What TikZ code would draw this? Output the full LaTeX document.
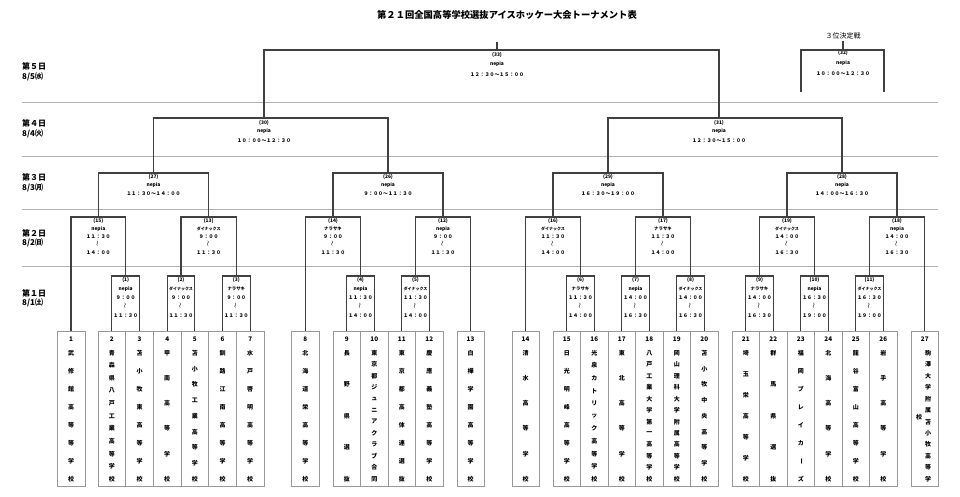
\documentclass[tikz,border=0pt]{standalone}
\usepackage{fontspec}
\setmainfont{Noto Sans CJK JP}
\tikzset{
 br/.style={draw=black!75,line width=1.1pt},
 sep/.style={draw=black!30,line width=0.9pt},
 tbox/.style={draw=black!40,line width=0.7pt,minimum height=155pt,inner sep=0pt,anchor=north},
 ttx/.style={font=\bfseries\fontsize{6}{6}\selectfont,inner sep=0pt},
 tnum/.style={font=\bfseries\fontsize{6.3}{6.3}\selectfont,inner sep=0pt},
 mtx/.style={font=\bfseries\fontsize{4.9}{4.9}\selectfont,inner sep=0pt},
 wtx/.style={font=\fontsize{5.6}{5.6}\selectfont,inner sep=0pt,rotate=90},
 daytx/.style={font=\bfseries\fontsize{8}{8}\selectfont,anchor=west,inner sep=0pt},
}
\newcommand\dyn{{\fontsize{4}{4}\selectfont ダイナックス}}
\newcommand\nrs{{\fontsize{4.4}{4.4}\selectfont ナラサキ}}
% team column: name, x, width, number, count, chars
\newcommand\team[6]{%
 \node[tbox,minimum width=#3pt] (#1) at (#2,331) {};
 \node[tnum] (#1n) at (#2,339) {#4};
 \foreach \ch [count=\i from 0] in {#6} {\node[ttx] (#1c\i) at (#2,{353+\i*126/(#5-1)}) {\ch};}
}
% first/second round match text: x, ytop, k, num, venue, t1, t2
\newcommand\mtwo[7]{%
 \coordinate (m#4) at (#1,#2);
 \node[mtx] (m#4l) at (#1,{#2+4*#3}) {(#4)};
 \node[mtx] (m#4v) at (#1,{#2+13*#3}) {#5};
 \node[mtx] (m#4a) at (#1,{#2+22*#3}) {#6};
 \node[wtx] (m#4w) at (#1,{#2+30*#3}) {〜};
 \node[mtx] (m#4b) at (#1,{#2+40*#3}) {#7};
}
% later round match text: x, ytop, num, venue, time, dy1, dy2, dy3
\newcommand\mone[8]{%
 \coordinate (m#3) at (#1,#2);
 \node[mtx] (m#3l) at (#1,{#2+#6}) {(#3)};
 \node[mtx] (m#3v) at (#1,{#2+#7}) {#4};
 \node[mtx] (m#3t) at (#1,{#2+#8}) {#5};
}
\begin{document}
\begin{tikzpicture}[x=1pt,y=-1pt]
\useasboundingbox (0,0) rectangle (960,496);
\fill[white] (0,0) rectangle (960,496);

\node[font=\bfseries\fontsize{9.3}{9.3}\selectfont,inner sep=0pt] (title) at (507,15) {第２１回全国高等学校選抜アイスホッケー大会トーナメント表};

% day labels
\node[daytx] (d5a) at (22,66) {第５日};
\node[daytx] (d5b) at (22,77) {8/5㈬};
\node[daytx] (d4a) at (22,123) {第４日};
\node[daytx] (d4b) at (22,134) {8/4㈫};
\node[daytx] (d3a) at (22,177) {第３日};
\node[daytx] (d3b) at (22,188) {8/3㈪};
\node[daytx] (d2a) at (22,233) {第２日};
\node[daytx] (d2b) at (22,243) {8/2㈰};
\node[daytx] (d1a) at (22,293) {第１日};
\node[daytx] (d1b) at (22,303) {8/1㈯};

% separators
\draw[sep] (22,102) -- (938,102);
\draw[sep] (22,156) -- (938,156);
\draw[sep] (22,209) -- (938,209);
\draw[sep] (22,266) -- (938,266);

% teams
\team{t1}{71}{28}{1}{8}{武,修,館,高,等,等,学,校}
\team{t2}{111.83}{27.67}{2}{11}{青,森,県,八,戸,工,業,高,等,学,校}
\team{t3}{139.5}{27.67}{3}{8}{苫,小,牧,東,高,等,学,校}
\team{t4}{167.17}{27.67}{4}{6}{甲,南,高,等,学,校}
\team{t5}{194.83}{27.67}{5}{9}{苫,小,牧,工,業,高,等,学,校}
\team{t6}{222.5}{27.67}{6}{8}{釧,路,江,南,高,等,学,校}
\team{t7}{250.17}{27.67}{7}{8}{水,戸,啓,明,高,等,学,校}
\team{t8}{305.3}{27.5}{8}{8}{北,海,道,栄,高,等,学,校}
\team{t9}{346.75}{27.5}{9}{5}{長,野,県,選,抜}
\team{t10}{374.25}{27.5}{10}{12}{東,京,都,ジ,ュ,ニ,ア,ク,ラ,ブ,合,同}
\team{t11}{401.75}{27.5}{11}{8}{東,京,都,高,体,連,選,抜}
\team{t12}{429.25}{27.5}{12}{8}{慶,應,義,塾,高,等,学,校}
\team{t13}{470.5}{27}{13}{8}{白,樺,学,園,高,等,学,校}
\team{t14}{525.5}{27}{14}{6}{清,水,高,等,学,校}
\team{t15}{566.75}{27.5}{15}{8}{日,光,明,峰,高,等,学,校}
\team{t16}{594.25}{27.5}{16}{11}{光,泉,カ,ト,リ,ッ,ク,高,等,学,校}
\team{t17}{621.75}{27.5}{17}{6}{東,北,高,等,学,校}
\team{t18}{649.25}{27.5}{18}{12}{八,戸,工,業,大,学,第,一,高,等,学,校}
\team{t19}{676.75}{27.5}{19}{12}{岡,山,理,科,大,学,附,属,高,等,学,校}
\team{t20}{704.25}{27.5}{20}{9}{苫,小,牧,中,央,高,等,学,校}
\team{t21}{745.75}{27.5}{21}{7}{埼,玉,栄,高,等,学,校}
\team{t22}{773.25}{27.5}{22}{5}{群,馬,県,選,抜}
\team{t23}{800.75}{27.5}{23}{8}{福,岡,ブ,レ,イ,カ,{\rotatebox{-90}{ー}},ズ}
\team{t24}{828.25}{27.5}{24}{6}{北,海,高,等,学,校}
\team{t25}{855.75}{27.5}{25}{8}{龍,谷,富,山,高,等,学,校}
\team{t26}{883.25}{27.5}{26}{6}{岩,手,高,等,学,校}
\node[tbox,minimum width=27pt] (t27) at (924.75,331) {};
\node[tnum] (t27n) at (924.75,339) {27};
\foreach \ch [count=\i from 0] in {駒,澤,大,学,附,属,苫,小,牧,高,等,学}
  {\node[ttx] (t27c\i) at (928,{353+\i*126/11}) {\ch};}
\node[ttx] (t27c12) at (919,417) {校};

% round 1
\mtwo{125.7}{276}{1}{1}{nepia}{９：００}{１１：３０}
\mtwo{181}{276}{1}{2}{\dyn}{９：００}{１１：３０}
\mtwo{236.3}{276}{1}{3}{\nrs}{９：００}{１１：３０}
\mtwo{360.5}{276}{1}{4}{nepia}{１１：３０}{１４：００}
\mtwo{415.5}{276}{1}{5}{\dyn}{１１：３０}{１４：００}
\mtwo{580.5}{276}{1}{6}{\nrs}{１１：３０}{１４：００}
\mtwo{635.5}{276}{1}{7}{nepia}{１４：００}{１６：３０}
\mtwo{690.5}{276}{1}{8}{\dyn}{１４：００}{１６：３０}
\mtwo{759.5}{276}{1}{9}{\nrs}{１４：００}{１６：３０}
\mtwo{814.5}{276}{1}{10}{nepia}{１６：３０}{１９：００}
\mtwo{869.5}{276}{1}{11}{\dyn}{１６：３０}{１９：００}
% round 2
\mtwo{98.3}{217}{0.9}{15}{nepia}{１１：３０}{１４：００}
\mtwo{208.7}{217}{0.9}{13}{\dyn}{９：００}{１１：３０}
\mtwo{333}{217}{0.9}{14}{\nrs}{９：００}{１１：３０}
\mtwo{443}{217}{0.9}{12}{nepia}{９：００}{１１：３０}
\mtwo{553}{217}{0.9}{16}{\dyn}{１１：３０}{１４：００}
\mtwo{663}{217}{0.9}{17}{\nrs}{１１：３０}{１４：００}
\mtwo{787}{217}{0.9}{19}{\dyn}{１４：００}{１６：３０}
\mtwo{897}{217}{0.9}{18}{nepia}{１４：００}{１６：３０}
% round 3
\mone{153.5}{173}{27}{nepia}{１１：３０～１４：００}{4}{12}{21}
\mone{388}{173}{26}{nepia}{９：００～１１：３０}{4}{12}{21}
\mone{608}{173}{29}{nepia}{１６：３０～１９：００}{4}{12}{21}
\mone{842}{173}{28}{nepia}{１４：００～１６：３０}{4}{12}{21}
% round 4
\mone{264}{118}{30}{nepia}{１０：００～１２：３０}{5}{13}{23}
\mone{719}{118}{31}{nepia}{１２：３０～１５：００}{5}{13}{23}
% final and third place
\mone{497}{50}{33}{nepia}{１２：３０～１５：００}{5}{14}{25}
\mone{843}{50}{32}{nepia}{１０：００～１２：３０}{3}{13}{24}
\node[font=\fontsize{7}{7}\selectfont,inner sep=0pt] (third) at (843,36) {３位決定戦};
\coordinate (m33top) at (497,42);
\coordinate (m32top) at (843,41);
\coordinate (m32lf) at (801,92);
\coordinate (m32rf) at (884,92);

% bracket connectors
\draw[br] (t2.north) |- (m1) -| (t3.north);
\draw[br] (t4.north) |- (m2) -| (t5.north);
\draw[br] (t6.north) |- (m3) -| (t7.north);
\draw[br] (t9.north) |- (m4) -| (t10.north);
\draw[br] (t11.north) |- (m5) -| (t12.north);
\draw[br] (t15.north) |- (m6) -| (t16.north);
\draw[br] (t17.north) |- (m7) -| (t18.north);
\draw[br] (t19.north) |- (m8) -| (t20.north);
\draw[br] (t21.north) |- (m9) -| (t22.north);
\draw[br] (t23.north) |- (m10) -| (t24.north);
\draw[br] (t25.north) |- (m11) -| (t26.north);
\draw[br] (t1.north) |- (m15) -| (m1);
\draw[br] (m2) |- (m13) -| (m3);
\draw[br] (t8.north) |- (m14) -| (m4);
\draw[br] (m5) |- (m12) -| (t13.north);
\draw[br] (t14.north) |- (m16) -| (m6);
\draw[br] (m7) |- (m17) -| (m8);
\draw[br] (m9) |- (m19) -| (m10);
\draw[br] (m11) |- (m18) -| (t27.north);
\draw[br] (m15) |- (m27) -| (m13);
\draw[br] (m14) |- (m26) -| (m12);
\draw[br] (m16) |- (m29) -| (m17);
\draw[br] (m19) |- (m28) -| (m18);
\draw[br] (m27) |- (m30) -| (m26);
\draw[br] (m29) |- (m31) -| (m28);
\draw[br] (m30) |- (m33) -| (m31);
\draw[br] (m33) -- (m33top);
\draw[br] (m32lf) |- (m32) -| (m32rf);
\draw[br] (m32) -- (m32top);
\end{tikzpicture}
\end{document}
